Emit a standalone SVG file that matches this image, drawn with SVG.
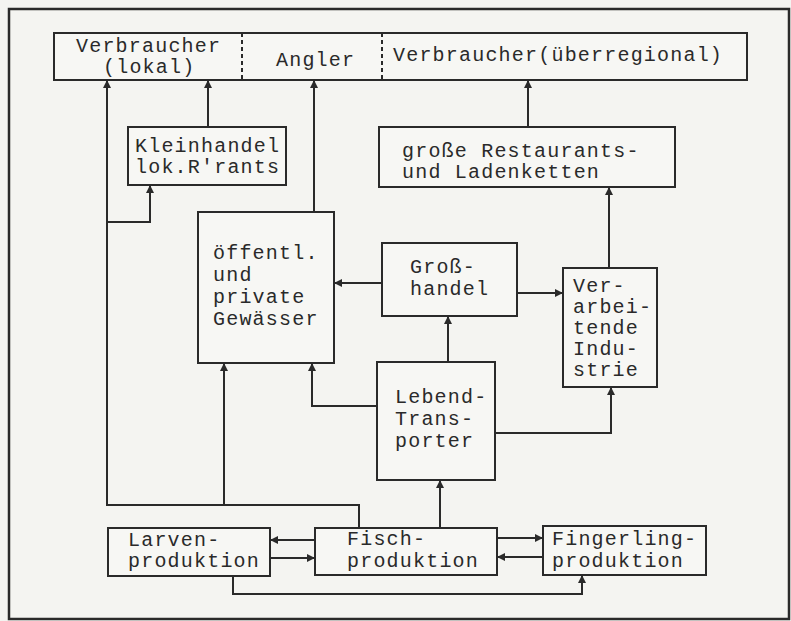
<svg xmlns="http://www.w3.org/2000/svg" width="791" height="621" viewBox="0 0 791 621">
<style>
  .bg { fill: #f4f4f1; }
  .box { fill: #f7f7f4; stroke: #2a2a2a; stroke-width: 2; }
  .frame { fill: none; stroke: #2a2a2a; stroke-width: 2.5; }
  .div { stroke: #2a2a2a; stroke-width: 2; stroke-dasharray: 4 3; }
  .t { font-family: "Liberation Mono", "DejaVu Sans Mono", monospace; font-size: 20px; letter-spacing: 1.2px; fill: #2a2a2a; }
  .c { fill: none; stroke: #2a2a2a; stroke-width: 2; marker-end: url(#ah); }
</style>
<defs>
  <marker id="ah" viewBox="0 0 10 10" refX="10" refY="5" markerWidth="8" markerHeight="8" markerUnits="userSpaceOnUse" orient="auto">
    <path d="M0,0 L10,5 L0,10 Z" fill="#2a2a2a"/>
  </marker>
</defs>
<rect class="bg" x="0" y="0" width="791" height="621"/>
<rect class="frame" x="9" y="9" width="780" height="610"/>

<g id="verbraucher-bar">
  <rect class="box" x="54" y="33" width="693" height="47"/>
  <line class="div" x1="242" y1="33" x2="242" y2="80"/>
  <line class="div" x1="382" y1="33" x2="382" y2="80"/>
</g>
<g id="verbraucher-lokal">
  <text class="t" x="76" y="52">Verbraucher</text>
  <text class="t" x="103" y="73">(lokal)</text>
</g>
<g id="angler">
  <text class="t" x="276" y="66">Angler</text>
</g>
<g id="verbraucher-ueberregional">
  <text class="t" x="393" y="61">Verbraucher(überregional)</text>
</g>

<g id="kleinhandel">
  <rect class="box" x="128" y="127" width="158" height="58"/>
  <text class="t" x="135" y="152">Kleinhandel</text>
  <text class="t" x="135" y="173">lok.R'rants</text>
</g>

<g id="restaurants">
  <rect class="box" x="379" y="127" width="296" height="60"/>
  <text class="t" x="402" y="157">große Restaurants-</text>
  <text class="t" x="402" y="178">und Ladenketten</text>
</g>

<g id="gewaesser">
  <rect class="box" x="198" y="212" width="136" height="151"/>
  <text class="t" x="213" y="259">öffentl.</text>
  <text class="t" x="213" y="281">und</text>
  <text class="t" x="213" y="303">private</text>
  <text class="t" x="213" y="325">Gewässer</text>
</g>

<g id="grosshandel">
  <rect class="box" x="382" y="243" width="135" height="73"/>
  <text class="t" x="410" y="273">Groß-</text>
  <text class="t" x="410" y="295">handel</text>
</g>

<g id="verarbeitende-industrie">
  <rect class="box" x="563" y="268" width="94" height="119"/>
  <text class="t" x="573" y="292">Ver-</text>
  <text class="t" x="573" y="313">arbei-</text>
  <text class="t" x="573" y="334">tende</text>
  <text class="t" x="573" y="355">Indu-</text>
  <text class="t" x="573" y="376">strie</text>
</g>

<g id="lebend-transporter">
  <rect class="box" x="377" y="362" width="118" height="118"/>
  <text class="t" x="395" y="403">Lebend-</text>
  <text class="t" x="395" y="425">Trans-</text>
  <text class="t" x="395" y="447">porter</text>
</g>

<g id="larvenproduktion">
  <rect class="box" x="108" y="528" width="162" height="48"/>
  <text class="t" x="128" y="546">Larven-</text>
  <text class="t" x="128" y="567">produktion</text>
</g>

<g id="fischproduktion">
  <rect class="box" x="315" y="528" width="182" height="47"/>
  <text class="t" x="347" y="545">Fisch-</text>
  <text class="t" x="347" y="567">produktion</text>
</g>

<g id="fingerlingproduktion">
  <rect class="box" x="543" y="526" width="163" height="49"/>
  <text class="t" x="552" y="545">Fingerling-</text>
  <text class="t" x="552" y="567">produktion</text>
</g>

<g id="connectors">
  <path class="c" d="M359 528 V505 H107 V80"/>
  <path class="c" d="M224 505 V363"/>
  <path class="c" d="M107 222 H150 V185"/>
  <path class="c" d="M208 127 V80"/>
  <path class="c" d="M314 212 V80"/>
  <path class="c" d="M528 127 V80"/>
  <path class="c" d="M382 283 H334"/>
  <path class="c" d="M517 293 H563"/>
  <path class="c" d="M609 268 V187"/>
  <path class="c" d="M448 362 V316"/>
  <path class="c" d="M377 406 H312 V363"/>
  <path class="c" d="M495 433 H611 V387"/>
  <path class="c" d="M440 528 V480"/>
  <path class="c" d="M315 540 H270"/>
  <path class="c" d="M270 558 H315"/>
  <path class="c" d="M497 538 H543"/>
  <path class="c" d="M543 557 H497"/>
  <path class="c" d="M233 576 V594 H582 V575"/>
</g>
</svg>
